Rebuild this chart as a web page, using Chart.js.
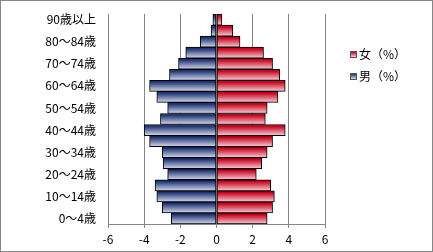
<!DOCTYPE html>
<html>
<head>
<meta charset="utf-8">
<script src="https://cdn.jsdelivr.net/npm/chart.js@4/dist/chart.umd.min.js"></script>
<style>
  body { margin: 0; background: #fff; }
  #wrap { position: relative; width: 433px; height: 252px; box-sizing: border-box; border: 1px solid #868686; }
  #graph-piramide { position: absolute; left: 0; top: 0; }
  #leyenda { position: absolute; left: 349px; top: 44px; font: 12px "Noto Sans CJK JP", sans-serif; color: #000; }
  #leyenda div { height: 22px; line-height: 18px; white-space: nowrap; }
  #leyenda span { display: inline-block; width: 5px; height: 5px; border: 1px solid #555; margin-right: 2px; vertical-align: 1px; }
</style>
</head>
<body>
<div id="wrap">
  <canvas id="graph-piramide" width="431" height="250"></canvas>
  <div id="leyenda"></div>
</div>
<script>
// categorías de edad (de abajo hacia arriba)
const edades = ['0～4歳', '5～9歳', '10～14歳', '15～19歳', '20～24歳', '25～29歳', '30～34歳',
  '35～39歳', '40～44歳', '45～49歳', '50～54歳', '55～59歳', '60～64歳', '65～69歳',
  '70～74歳', '75～79歳', '80～84歳', '85～89歳', '90歳以上'];

// porcentajes
const hombres = [-2.5, -3.0, -3.3, -3.4, -2.7, -2.95, -3.0, -3.7, -4.0, -3.1,
  -2.7, -3.3, -3.7, -2.6, -2.1, -1.7, -0.9, -0.3, -0.2];
const mujeres = [2.8, 3.1, 3.2, 3.0, 2.2, 2.5, 2.8, 3.1, 3.8, 2.7,
  2.8, 3.4, 3.8, 3.5, 3.1, 2.6, 1.3, 0.9, 0.3];

const ticksX = [-6, -4, -2, 0, 2, 4, 6];
const nombres = ['男（%）', '女（%）'];

const fuente = { family: '"Noto Sans CJK JP", sans-serif', size: 12 };

// degradado vertical para cada barra
let degradado = (context, oscuro, claro) => {
  const chart = context.chart;
  if (!chart.chartArea || context.type !== 'data') return oscuro;
  const y = chart.scales.y.getPixelForValue(context.dataIndex);
  const h = chart.chartArea.height / edades.length;
  const g = chart.ctx.createLinearGradient(0, y - h / 2, 0, y + h / 2);
  g.addColorStop(0, oscuro);
  g.addColorStop(0.15, oscuro);
  g.addColorStop(1, claro);
  return g;
};

const colores = [['#1f3370', '#d4dbef'], ['#c8001c', '#f6d0d7']];

const dataPiramide = {
  labels: edades,
  datasets: [
    {
      label: nombres[0],
      data: hombres,
      backgroundColor: ctx => degradado(ctx, colores[0][0], colores[0][1]),
      borderColor: '#000',
      borderWidth: 1,
      borderSkipped: false,
      barPercentage: 1,
      categoryPercentage: 1
    },
    {
      label: nombres[1],
      data: mujeres,
      backgroundColor: ctx => degradado(ctx, colores[1][0], colores[1][1]),
      borderColor: '#000',
      borderWidth: 1,
      borderSkipped: false,
      barPercentage: 1,
      categoryPercentage: 1
    }
  ]
};

const configPiramide = {
  type: 'bar',
  data: dataPiramide,
  options: {
    indexAxis: 'y',
    responsive: false,
    animation: false,
    devicePixelRatio: 1,
    layout: { padding: { left: 0, top: 13, right: 107, bottom: 0 } },
    plugins: {
      legend: { display: false },
      tooltip: { enabled: false }
    },
    scales: {
      x: {
        stacked: true,
        min: -6,
        max: 6,
        afterBuildTicks: scale => { scale.ticks = ticksX.map(v => ({ value: v })); },
        afterFit: scale => { scale.height = 27; },
        grid: { color: '#868686', tickLength: 4 },
        border: { color: '#868686' },
        ticks: { font: fuente, color: '#000', padding: 4, maxRotation: 0 }
      },
      y: {
        stacked: true,
        reverse: true,
        afterFit: scale => {
          scale.width = 107;
          scale.paddingTop = 0;
          scale.paddingBottom = 0;
        },
        grid: { display: false, drawTicks: false },
        border: { color: '#868686' },
        ticks: {
          font: fuente,
          color: '#000',
          padding: 12,
          autoSkip: false,
          callback: (v, i) => i % 2 === 0 ? edades[i] : ''
        }
      }
    }
  }
};

const chartPiramide = new Chart(document.querySelector('#graph-piramide'), configPiramide);

// leyenda en html: 女 primero, luego 男
let leyenda = document.getElementById('leyenda');
[1, 0].forEach(i => {
  leyenda.innerHTML += `<div><span style="background: linear-gradient(${colores[i][0]}, ${colores[i][1]})"></span>${nombres[i]}</div>`;
});
</script>
</body>
</html>
